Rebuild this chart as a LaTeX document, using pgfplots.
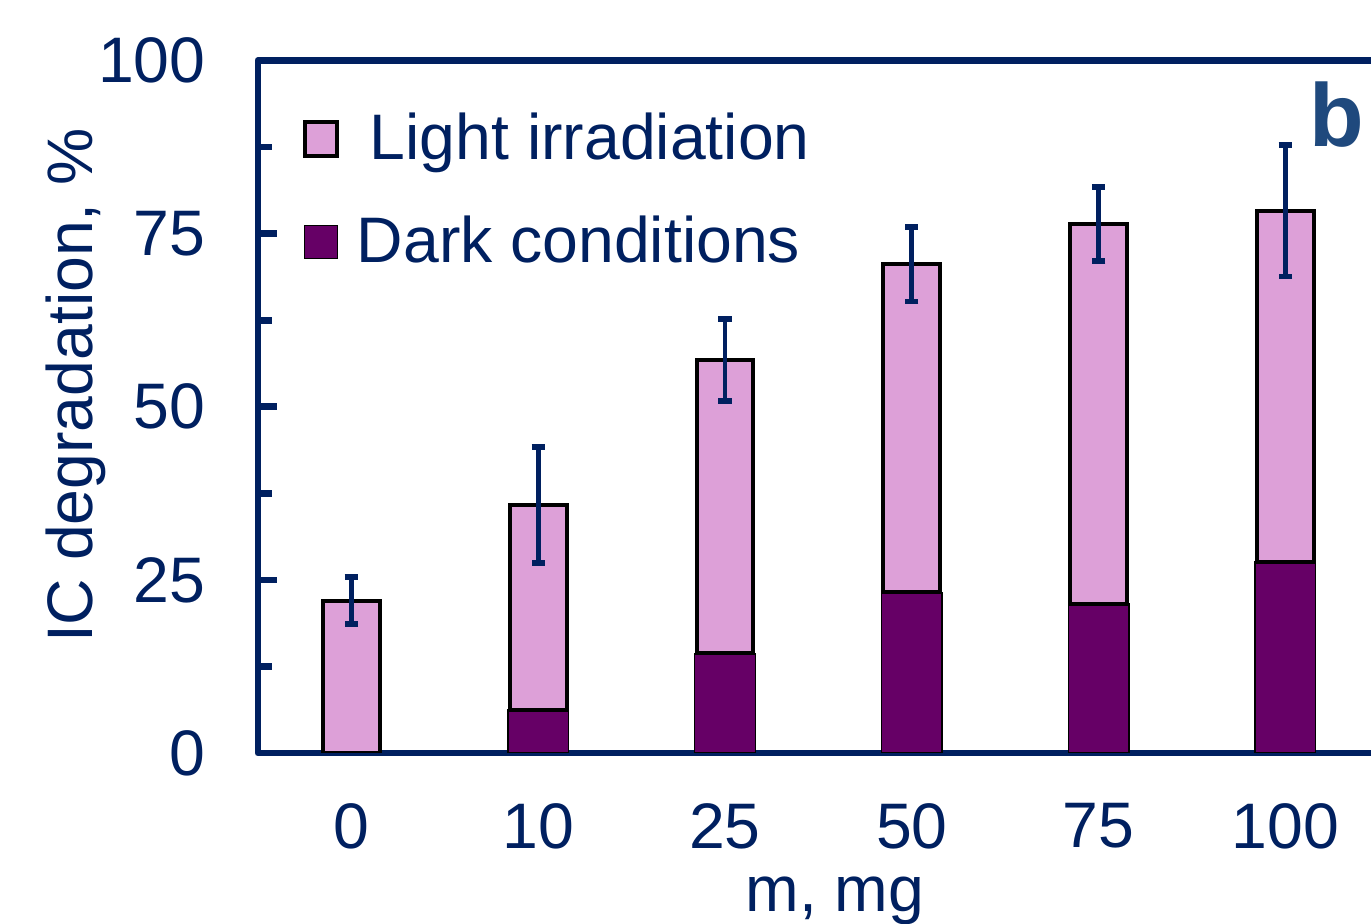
\documentclass[border=0pt]{standalone}
\usepackage{pgfplots}
\pgfplotsset{compat=1.18}
\usepackage{fontspec}
\setmainfont{Liberation Sans}
\definecolor{navy}{HTML}{002060}
\definecolor{bcol}{HTML}{1F497D}
\definecolor{lightc}{HTML}{DDA0D8}
\definecolor{darkc}{HTML}{660066}
\begin{document}
\begin{tikzpicture}
\begin{axis}[
  scale only axis,
  width=336.24pt, height=207.75pt,
  xmin=-0.5, xmax=5.5, ymin=0, ymax=100,
  xtick={0,1,2,3,4,5}, xticklabels={0,10,25,50,75,100},
  ytick={0,25,50,75,100},
  minor y tick num=1,
  xtick pos=bottom, ytick pos=left,
  tick align=inside,
  major tick length=5.8pt, minor tick length=4.3pt,
  xtick style={draw=none},
  ytick style={line width=2pt, draw=navy},
  axis line style={line width=2pt, draw=navy, line join=round},
  font=\fontsize{19.3}{23}\selectfont,
  /pgf/number format/assume math mode=true,
  tick label style={text=navy},
  yticklabel style={xshift=-12.2pt},
  xticklabel style={yshift=-11.6pt},
  xlabel={m, mg}, ylabel={IC degradation, \%},
  xlabel style={at={(axis description cs:0.5148,-0.2296)}, anchor=base, text=navy},
  ylabel style={at={(axis description cs:-0.1481,0.5307)}, anchor=base, text=navy},
  legend image code/.code={\draw[#1] (0pt,-5pt) rectangle (9.8pt,5pt);},
  legend cell align=left,
  legend style={at={(axis description cs:0.0302,0.944)}, anchor=north west, draw=none, fill=none, text=navy, row sep=11.4pt},
]
\addlegendimage{fill=lightc, draw=black, line width=1.2pt}
\addlegendentry{\hspace{7.2pt}Light irradiation}
\addlegendimage{fill=darkc, draw=black, line width=0.4pt}
\addlegendentry{\hspace{3.3pt}Dark conditions}

% total (light irradiation)
\addplot[ybar, bar shift=0pt, bar width=17pt, fill=lightc, draw=black, line width=1.2pt, forget plot]
  coordinates {(0,22.0) (1,35.8) (2,56.75) (3,70.6) (4,76.4) (5,78.3)};
% dark conditions
\addplot[ybar, bar shift=0pt, bar width=18.2pt, fill=darkc, draw=black, line width=0.4pt, forget plot]
  coordinates {(1,6.2) (2,14.4) (3,23.2) (4,21.5) (5,27.6)};
% separator between dark and light parts
\addplot[only marks, mark=-, mark size=9.1pt, mark options={draw=black, line width=1.2pt}, forget plot]
  coordinates {(1,6.2) (2,14.4) (3,23.2) (4,21.5) (5,27.6)};
% error bars
\addplot[draw=none, mark=none, forget plot,
  error bars/.cd, y dir=both, y explicit,
  error bar style={draw=navy, line width=1.4pt},
  error mark options={rotate=90, draw=navy, line width=1.7pt, mark size=2pt}]
  coordinates {(0,22.0) +- (0,3.4) (1,35.8) +- (0,8.4) (2,56.75) +- (0,5.9)
               (3,70.6) +- (0,5.4) (4,76.4) +- (0,5.35) (5,78.3) +- (0,9.5)};

\node[font=\fontsize{26.8}{30}\selectfont\bfseries, text=bcol] at (axis description cs:0.9627,0.9213) {b};
\end{axis}
\pgfresetboundingbox
\path[use as bounding box] (-77.4pt,-51.3pt) rectangle (333.9pt,225.9pt);
\end{tikzpicture}
\end{document}
